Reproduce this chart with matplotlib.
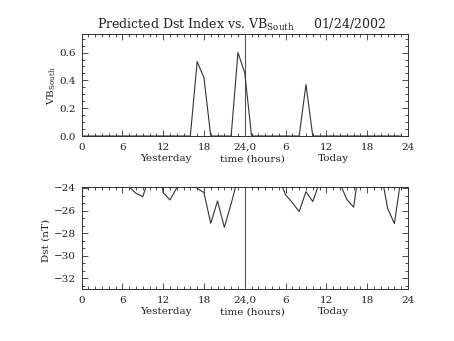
import matplotlib
matplotlib.use("Agg")
import matplotlib.pyplot as plt
from matplotlib.ticker import MultipleLocator, FixedLocator
import numpy as np

plt.rcParams['font.family'] = ['DejaVu Serif']
plt.rcParams['mathtext.fontset'] = 'custom'
plt.rcParams['mathtext.rm'] = 'DejaVu Serif'

hours = list(range(48))
vb_south = [0.0]*16 + [0.0, 0.535, 0.42, 0.0, 0.0, 0.0, 0.0, 0.60, 0.455, 0.0,
                       0.0, 0.0, 0.0, 0.0, 0.0, 0.0, 0.0, 0.37, 0.0] + [0.0]*13
dst = [-22.0, -21.5, -21.5, -22.0, -22.0, -22.5, -23.0, -23.9, -24.47, -24.77,
       -23.0, -20.0, -24.4, -25.06, -24.0, -23.0, -23.0, -24.05, -24.4, -27.13,
       -25.15, -27.48, -25.4, -23.1, -23.0, -23.0, -24.06, -23.0, -23.0, -23.1,
       -24.6, -25.3, -26.1, -24.33, -25.2, -23.5, -23.0, -23.0, -23.6, -25.0,
       -25.7, -21.5, -22.5, -22.5, -22.5, -25.8, -27.15, -23.0]
xtick_pos = [0, 6, 12, 18, 24, 30, 36, 42, 48]
xtick_labels = ['0', '6', '12', '18', '24,0', '6', '12', '18', '24']
day_labels = ['Yesterday', 'time (hours)', 'Today']
day_label_pos = [12.4, 25.2, 37.1]
title_text = 'Predicted Dst Index vs. VB$_{\\mathregular{South}}$     01/24/2002'

W, H = 454, 341
fig = plt.figure(figsize=(W/100, H/100), dpi=100)

def px_axes(left, top, right, bottom):
    return fig.add_axes([left/W, 1-bottom/H, (right-left)/W, (bottom-top)/H])

ax1 = px_axes(81.5, 34.5, 408, 136)
ax2 = px_axes(81.5, 187.3, 408, 289)

lc = '#303030'
for ax in (ax1, ax2):
    ax.set_xlim(0, 48)
    ax.xaxis.set_major_locator(FixedLocator(xtick_pos))
    ax.set_xticklabels(xtick_labels)
    ax.xaxis.set_minor_locator(MultipleLocator(1))
    ax.tick_params(which='both', direction='in', top=True, right=True,
                   colors=lc, labelcolor='#222222', width=0.6, labelsize=7.5)
    ax.tick_params(which='major', length=4.5, pad=5)
    ax.tick_params(axis='y', which='major', pad=4)
    ax.tick_params(which='minor', length=2.2)
    for s in ax.spines.values():
        s.set_color(lc)
        s.set_linewidth(0.7)
    ax.axvline(24, color='#555555', lw=0.8)
    for lab, xp in zip(day_labels, day_label_pos):
        ax.text(xp, -0.225, lab, transform=ax.get_xaxis_transform(),
                ha='center', va='center', fontsize=7.5, color='#222222')

ax1.plot(hours, vb_south, color='#333333', lw=0.8)
ax1.set_ylim(0, 0.73)
ax1.yaxis.set_minor_locator(MultipleLocator(0.05))
ax1.set_yticks([0.0, 0.2, 0.4, 0.6])
ax1.set_yticklabels(['0.0', '0.2', '0.4', '0.6'])
ax1.text(-0.092, 0.5, 'VB$_{\\mathregular{South}}$', transform=ax1.transAxes,
         rotation=90, ha='center', va='center', fontsize=7.5, color='#222222')

ax2.plot(hours, dst, color='#333333', lw=0.8)
ax2.set_ylim(-32.95, -23.94)
ax2.set_yticks([-24, -26, -28, -30, -32])
ax2.set_yticklabels(['\u221224', '\u221226', '\u221228', '\u221230', '\u221232'])
ax2.yaxis.set_minor_locator(MultipleLocator(2/3))
ax2.text(-0.11, 0.48, 'Dst (nT)', transform=ax2.transAxes,
         rotation=90, ha='center', va='center', fontsize=7.5, color='#222222')

fig.text(241/W, 1-29/H, title_text, ha='center', va='baseline',
         fontsize=9.0, color='#222222')

fig.savefig('out.png', dpi=100)
